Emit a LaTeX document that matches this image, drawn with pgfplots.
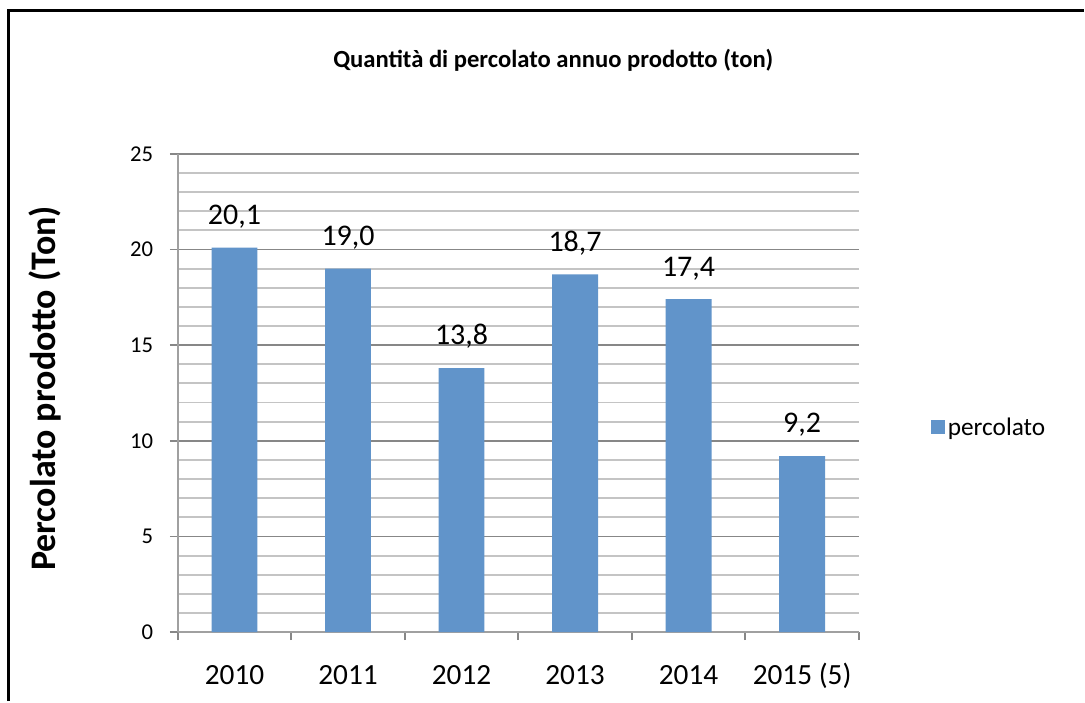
\documentclass[border=0pt]{standalone}
\usepackage{pgfplots}
\pgfplotsset{compat=1.18}
\usepackage{fontspec}
\setmainfont{Carlito}
\definecolor{barblue}{HTML}{6194CA}
\definecolor{majgrid}{HTML}{878787}
\definecolor{axisgray}{HTML}{A0A0A0}
\definecolor{mingrid}{HTML}{C4C4C4}
\begin{document}
\begin{tikzpicture}[x=0.75pt,y=0.75pt]
\path (0,0) rectangle (1085,702);
\draw[line width=2.25pt] (9,0) -- (9,691) -- (1085,691);
\begin{axis}[
  at={(133.5pt,51.75pt)}, anchor=south west,
  scale only axis, width=511.5pt, height=359.25pt,
  ymin=0, ymax=25, ytick={0,5,...,25}, minor y tick num=4,
  xmin=-0.5, xmax=5.5, xtick={-0.5,0.5,...,5.5},
  x tick label as interval,
  xticklabels={2010,2011,2012,2013,2014,2015 (5)},
  axis x line*=bottom, axis y line*=left,
  tick align=outside,
  major tick length=6pt, minor tick length=0pt,
  ymajorgrids, yminorgrids,
  major grid style={majgrid, line width=1.4pt},
  minor grid style={mingrid, line width=1.4pt},
  tick style={majgrid, line width=1.4pt},
  axis line style={axisgray, line width=1.4pt},
  yticklabel style={/pgf/number format/assume math mode=true, font=\fontsize{17}{20}\selectfont, xshift=-9pt},
  xticklabel style={font=\fontsize{22}{26}\selectfont, text height=14pt, text depth=0pt, yshift=-16pt},
  ybar, bar width=34.5pt,
  nodes near coords={\pgfmathprintnumber[fixed,fixed zerofill,precision=1,use comma,assume math mode=true]{\pgfplotspointmeta}},
  every node near coord/.append style={font=\fontsize{22.5}{26}\selectfont, black, yshift=11pt},
  legend style={at={(1.1,0.428)}, anchor=west, draw=none, fill=none, font=\fontsize{19}{22}\selectfont},
  legend cell align=left,
]
\addplot[ybar, fill=barblue, draw=none, area legend,
  legend image code/.code={\fill[barblue] (0pt,-5.25pt) rectangle (10.5pt,5.25pt);}]
  coordinates {(0,20.1) (1,19.0) (2,13.8) (3,18.7) (4,17.4) (5,9.2)};
\addlegendentry{percolato}
\end{axis}
\node[font=\bfseries\fontsize{18.5}{22}\selectfont] at (554,642) {Quantità di percolato annuo prodotto (ton)};
\node[rotate=90, font=\bfseries\fontsize{27}{32}\selectfont] at (45,313) {Percolato prodotto (Ton)};
\end{tikzpicture}
\end{document}
